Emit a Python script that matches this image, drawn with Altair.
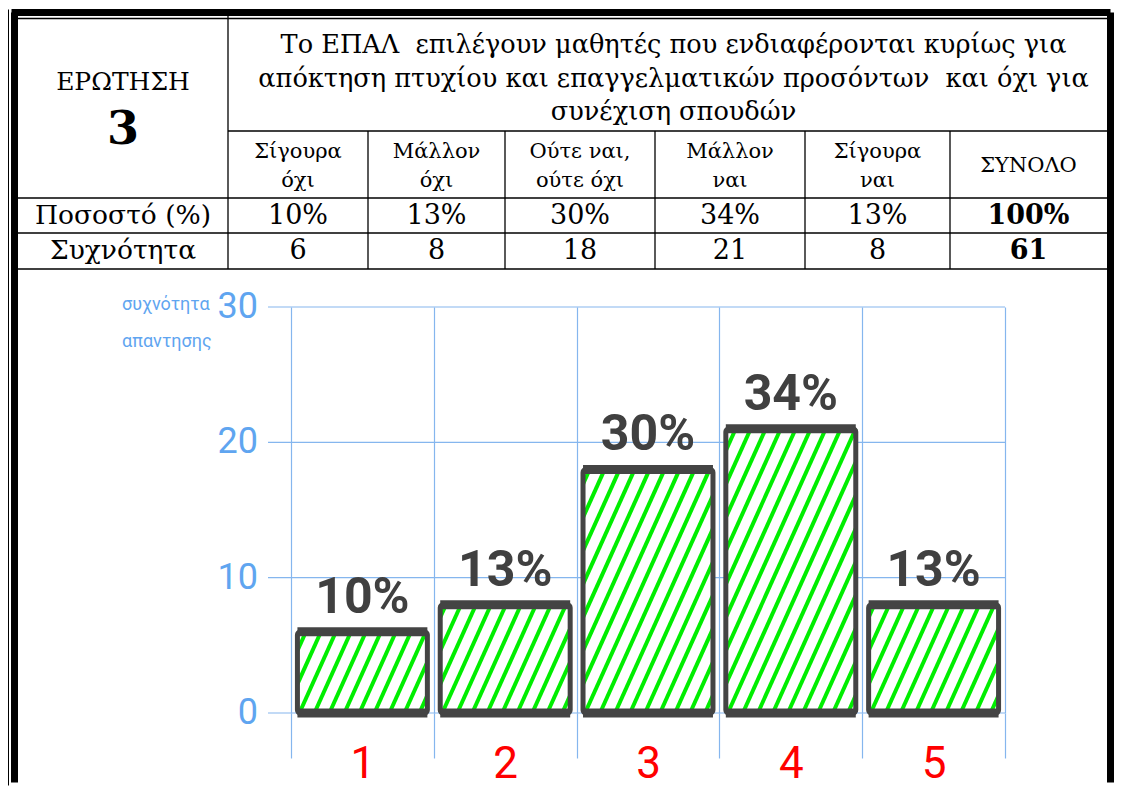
import altair as alt
import pandas as pd

# ---------------- data ----------------
codes = [1, 2, 3, 4, 5]
answer_lines = [["Σίγουρα", "όχι"], ["Μάλλον", "όχι"], ["Ούτε ναι,", "ούτε όχι"],
                ["Μάλλον", "ναι"], ["Σίγουρα", "ναι"]]
percents = [10, 13, 30, 34, 13]
freqs = [6, 8, 18, 21, 8]
total_pct = "100%"
total_freq = "61"
question_label = "ΕΡΩΤΗΣΗ"
question_no = "3"
question_text = ["Το ΕΠΑΛ\u00a0 επιλέγουν μαθητές που ενδιαφέρονται κυρίως για",
                 "απόκτηση πτυχίου και επαγγελματικών προσόντων\u00a0 και όχι για",
                 "συνέχιση σπουδών"]
total_label = "ΣΥΝΟΛΟ"
row_labels = ["Ποσοστό (%)", "Συχνότητα"]
y_title = ["συχνότητα", "απαντησης"]
y_ticks = [0, 10, 20, 30]

# ---------------- layout / style ----------------
W, H = 1106, 777                 # whole figure (frame)
PW, PH = 714, 406                # bar plot area
OX, OY = 283, 298                # plot area origin inside the frame
col_edges = [10, 220, 360, 497, 647, 797, 942, 1099]
row_edges = [9.5, 122, 189, 224, 260]
HW = 0.455                       # half bar width in category units
PX = PW / 5.0
PY = PH / 30.0
A, S, PHASE = 0.45, 15.0, 2.0    # hatch slope, spacing, phase (px)
WB = 2 * HW * PX
TICK_LEN, LABEL_PAD = 23, 10

SERIF = "DejaVu Serif"
SANS = "Roboto"
BLUE = "#5fa5f0"
GRID = "#85b6ee"
DARK = "#444444"
GREEN = "#00ee00"

bars = pd.DataFrame({"code": codes, "freq": freqs, "pct": percents})
bars["label"] = [f"{p}%" for p in percents]
ticks_df = pd.DataFrame({"v": y_ticks})

xs = alt.Scale(domain=[0.5, 5.5], nice=False, zero=False)
ys = alt.Scale(domain=[0, 30], nice=False, zero=False)

base = alt.Chart(bars).transform_calculate(
    xl=f"datum.code - {HW}", xr=f"datum.code + {HW}", base="0"
)

grid_axis = alt.Axis(values=[c - 0.5 for c in codes] + [codes[-1] + 0.5], orient="bottom",
                     grid=True, gridColor=GRID, gridWidth=1.2, ticks=True,
                     tickSize=45, tickColor=GRID, tickWidth=1.2, labels=False, domain=False,
                     title=None)
label_axis = alt.Axis(values=codes, orient="bottom", grid=False, ticks=False,
                      tickSize=0, domain=False, labelColor="#ff0000", labelFont=SANS,
                      labelFontSize=44, labelPadding=29, format="d", title=None,
                      labelFlush=False)

# value axis (grid lines + tick marks + labels) from the tick list
ygrid = alt.Chart(ticks_df).transform_calculate(
    x0=f"0.5 - {TICK_LEN} / {PX}", x1="5.5"
).mark_rule(color=GRID, strokeWidth=1.2).encode(
    x=alt.X("x0:Q", scale=xs, axis=None), x2="x1:Q",
    y=alt.Y("v:Q", scale=ys, axis=None))
ylabels = alt.Chart(ticks_df).transform_calculate(
    xl=f"0.5 - {TICK_LEN + LABEL_PAD} / {PX}"
).mark_text(font=SANS, fontSize=36, color=BLUE, align="right", baseline="middle").encode(
    x=alt.X("xl:Q", scale=xs, axis=None), y=alt.Y("v:Q", scale=ys, axis=None),
    text=alt.Text("v:Q", format="d"))

fill = base.mark_rect(color="white").encode(
    x=alt.X("xl:Q", scale=xs, axis=grid_axis), x2="xr:Q",
    y=alt.Y("base:Q", scale=ys, axis=None), y2="freq:Q")

hatch = alt.Chart(bars).transform_calculate(k="sequence(0, 22)").transform_flatten(["k"]) \
    .transform_calculate(hb=f"datum.freq * {PY}", c=f"(datum.k - 10) * {S} + {PHASE}") \
    .transform_calculate(tlo=f"max(0, -datum.c / {A})",
                         thi=f"min(datum.hb, ({WB} - datum.c) / {A})") \
    .transform_filter("datum.tlo < datum.thi") \
    .transform_calculate(xs_=f"datum.code - {HW} + (datum.c + {A} * datum.tlo) / {PX}",
                         xe_=f"datum.code - {HW} + (datum.c + {A} * datum.thi) / {PX}",
                         ys_=f"datum.tlo / {PY}", ye_=f"datum.thi / {PY}") \
    .mark_rule(color=GREEN, strokeWidth=4, strokeCap="butt").encode(
        x=alt.X("xs_:Q", scale=xs, axis=None), x2="xe_:Q",
        y=alt.Y("ys_:Q", scale=ys, axis=None), y2="ye_:Q")

outline = base.mark_rect(fillOpacity=0, stroke=DARK, strokeWidth=5, cornerRadius=3).encode(
    x=alt.X("xl:Q", scale=xs, axis=None), x2="xr:Q",
    y=alt.Y("base:Q", scale=ys, axis=None), y2="freq:Q")

top_edge = base.mark_rule(color=DARK, strokeWidth=9, strokeCap="butt").encode(
    x=alt.X("xl:Q", scale=xs, axis=None), x2="xr:Q",
    y=alt.Y("freq:Q", scale=ys, axis=None))
bottom_edge = base.mark_rule(color=DARK, strokeWidth=9, strokeCap="butt").encode(
    x=alt.X("xl:Q", scale=xs, axis=None), x2="xr:Q",
    y=alt.Y("base:Q", scale=ys, axis=None))

pct_text = base.mark_text(font=SANS, fontSize=50, fontWeight="bold", color="#404040",
                          baseline="alphabetic", dy=-19).encode(
    x=alt.X("code:Q", scale=xs, axis=label_axis),
    y=alt.Y("freq:Q", scale=ys, axis=None), text="label:N")

bar_part = alt.layer(ygrid, ylabels, fill, hatch, outline, top_edge, bottom_edge,
                     pct_text).resolve_axis(x="independent")

# ---------------- table & frame (drawn around the plot area) ----------------
lines = []
lines.append(dict(x=col_edges[1], x2=col_edges[1], y=0, y2=row_edges[4], w=1.3))
for e in col_edges[2:-1]:
    lines.append(dict(x=e, x2=e, y=row_edges[1], y2=row_edges[4], w=1.3))
lines.append(dict(x=col_edges[1], x2=col_edges[-1], y=row_edges[1], y2=row_edges[1], w=1.3))
for r in row_edges[2:]:
    lines.append(dict(x=col_edges[0], x2=col_edges[-1], y=r, y2=r, w=1.3))
lines.append(dict(x=col_edges[0], x2=col_edges[-1], y=row_edges[0], y2=row_edges[0], w=1.5))
lines.append(dict(x=3.5, x2=W - 3.5, y=3.5, y2=3.5, w=7))
lines.append(dict(x=0.5, x2=0.5, y=0.5, y2=H - 0.5, w=1))
lines.append(dict(x=6.5, x2=6.5, y=3.5, y2=H - 3.5, w=7))
lines.append(dict(x=W - 3.5, x2=W - 3.5, y=3.5, y2=H - 3.5, w=7))
lines_df = pd.DataFrame(lines)

txt_norm, txt_bold = [], []
c0 = (col_edges[0] + col_edges[1]) / 2
head_mid = (row_edges[0] + row_edges[2]) / 2
txt_norm.append(dict(x=c0, y=head_mid - 26, t=question_label, s=25))
txt_bold.append(dict(x=c0, y=head_mid + 22, t=question_no, s=46))
title_x = (col_edges[1] + col_edges[-1]) / 2 + 6
title_mid = (row_edges[0] + row_edges[1]) / 2 + 4
for i, ln in enumerate(question_text):
    txt_norm.append(dict(x=title_x, y=title_mid + (i - 1) * 33.5, t=ln, s=25.6))
sub_mid = (row_edges[1] + row_edges[2]) / 2
r1 = (row_edges[2] + row_edges[3]) / 2
r2 = (row_edges[3] + row_edges[4]) / 2
for i in range(5):
    cx = (col_edges[i + 1] + col_edges[i + 2]) / 2
    txt_norm.append(dict(x=cx, y=sub_mid - 13, t=answer_lines[i][0], s=21))
    txt_norm.append(dict(x=cx, y=sub_mid + 16, t=answer_lines[i][1], s=21))
    txt_norm.append(dict(x=cx, y=r1, t=f"{percents[i]}%", s=27))
    txt_norm.append(dict(x=cx, y=r2, t=str(freqs[i]), s=27))
ct = (col_edges[6] + col_edges[7]) / 2
txt_norm.append(dict(x=ct, y=sub_mid + 1, t=total_label, s=21))
txt_bold.append(dict(x=ct, y=r1, t=total_pct, s=27))
txt_bold.append(dict(x=ct, y=r2, t=total_freq, s=27))
txt_norm.append(dict(x=c0, y=r1, t=row_labels[0], s=26.5))
txt_norm.append(dict(x=c0, y=r2, t=row_labels[1], s=26.5))

# y-axis caption (two lines, top-left of the plot)
cap_rows = [dict(x=OX - 169, y=OY + 3 + 37 * i, t=t) for i, t in enumerate(y_title)]

tx = alt.Scale(domain=[0, W], range=[-OX, W - OX], nice=False, zero=False)
ty = alt.Scale(domain=[0, H], range=[-OY, H - OY], nice=False, zero=False)

table_lines = alt.Chart(lines_df).mark_rule(color="black", strokeCap="butt").encode(
    x=alt.X("x:Q", scale=tx, axis=None), x2="x2:Q",
    y=alt.Y("y:Q", scale=ty, axis=None), y2="y2:Q",
    strokeWidth=alt.StrokeWidth("w:Q", scale=None, legend=None))

def text_layer(rows, weight):
    return alt.Chart(pd.DataFrame(rows)).mark_text(
        font=SERIF, fontWeight=weight, color="black", align="center", baseline="middle"
    ).encode(x=alt.X("x:Q", scale=tx, axis=None), y=alt.Y("y:Q", scale=ty, axis=None),
             text="t:N", size=alt.Size("s:Q", scale=None, legend=None))

caption = alt.Chart(pd.DataFrame(cap_rows)).mark_text(
    font=SANS, fontSize=18, color=BLUE, align="left", baseline="alphabetic"
).encode(x=alt.X("x:Q", scale=tx, axis=None), y=alt.Y("y:Q", scale=ty, axis=None), text="t:N")

table_part = alt.layer(table_lines, text_layer(txt_norm, "normal"),
                       text_layer(txt_bold, "bold"), caption)

chart = alt.layer(bar_part, table_part).resolve_scale(
    x="independent", y="independent").properties(
    width=PW, height=PH, padding=0, background="white").configure_view(strokeWidth=0)

chart.save("out.html", embed_options={"renderer": "svg", "actions": False})
